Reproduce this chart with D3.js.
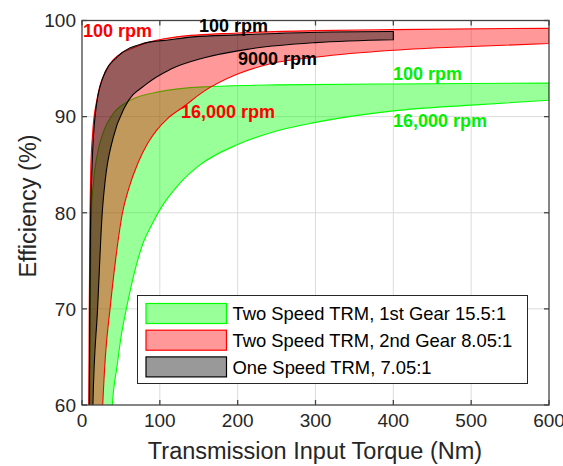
<!DOCTYPE html>
<html>
<head>
<meta charset="utf-8">
<script src="https://cdn.jsdelivr.net/npm/d3@7"></script>
<style>
  body { margin: 0; background: #fff; }
  text { font-family: "Liberation Sans", Arial, sans-serif; }
</style>
</head>
<body>
<div id="chart"></div>
<script>
// ---- data (torque Nm, efficiency %) ----
var gear1HiT   = [9.5, 10, 11, 12.4, 14.5, 19, 27, 40, 62, 100, 156, 250, 400, 600];
var gear1HiEff = [55, 60, 73, 80.3, 83, 85.8, 88.3, 90.3, 91.7, 92.6, 93.1, 93.3, 93.4, 93.5];
var gear1LoT   = [37, 39, 45, 50, 57, 65, 77, 90, 100, 125, 152, 200, 250, 300, 400, 500, 600];
var gear1LoEff = [57, 60, 64, 67, 70, 73, 76.5, 78.8, 80.3, 83, 85, 87.1, 88.5, 89.4, 90.6, 91.2, 91.7];

var gear2HiT   = [8, 8.7, 9.3, 10.3, 11.3, 13.7, 19, 23, 30, 40, 70, 122, 200, 300, 400, 600];
var gear2HiEff = [55, 60, 70, 80, 84.5, 88.3, 91.7, 93.2, 94.6, 95.9, 97.3, 98.3, 98.7, 98.95, 99.05, 99.2];
var gear2LoT   = [25, 26.6, 30, 36, 43, 52, 60, 72, 85, 96, 110, 130, 156, 199, 242, 302, 400, 500, 600];
var gear2LoEff = [57, 60, 65, 70, 75, 80, 82.5, 85.2, 87.3, 88.6, 89.8, 91, 92.6, 94.4, 95.5, 96.2, 96.9, 97.3, 97.6];

var oneHiT   = [9, 9.4, 10, 11, 13, 17, 27, 45, 78, 113, 143, 199, 250, 319, 400];
var oneHiEff = [55, 60, 70, 79, 85, 90.2, 94.1, 96.2, 97.6, 98.0, 98.3, 98.5, 98.65, 98.8, 98.85];
var oneLoT   = [13, 14, 20, 26, 30, 40, 55, 83, 113, 156, 212, 300, 400];
var oneLoEff = [55, 60, 70, 80, 83.5, 87.8, 91, 93.4, 94.9, 96.1, 97.0, 97.7, 98.0];

var xTicks = [0, 100, 200, 300, 400, 500, 600];
var yTicks = [60, 70, 80, 90, 100];
var legendNames = ["Two Speed TRM, 1st Gear 15.5:1", "Two Speed TRM, 2nd Gear 8.05:1", "One Speed TRM, 7.05:1"];
var bandColors = ["#00ff00", "#ff0000", "#000000"];

var W = 563, H = 466;
var x = d3.scaleLinear().domain([0, 600]).range([82, 549]);
var y = d3.scaleLinear().domain([60, 100]).range([405, 20.5]);

var svg = d3.select("#chart").append("svg")
  .attr("width", W).attr("height", H);

svg.append("clipPath").attr("id", "plotclip")
  .append("rect")
  .attr("x", x(0)).attr("y", y(100))
  .attr("width", x(600) - x(0)).attr("height", y(60) - y(100));

// grid
var grid = svg.append("g").attr("stroke", "#dcdcdc").attr("stroke-width", 1);
xTicks.slice(1, -1).forEach(function(t) {
  grid.append("line").attr("x1", x(t)).attr("x2", x(t)).attr("y1", y(60)).attr("y2", y(100));
});
yTicks.slice(1, -1).forEach(function(t) {
  grid.append("line").attr("x1", x(0)).attr("x2", x(600)).attr("y1", y(t)).attr("y2", y(t));
});

function pts(T, E) { return T.map(function(t, i) { return [x(t), y(E[i])]; }); }
var line = d3.line().curve(d3.curveMonotoneX);

// closed band: upper left->right, then lower right->left
function bandPath(hiT, hiE, loT, loE) {
  var up = line(pts(hiT, hiE));
  var lo = line(pts(loT, loE).reverse());
  return up + "L" + lo.slice(1) + "Z";
}

var plot = svg.append("g").attr("clip-path", "url(#plotclip)");
var bands = [
  [gear1HiT, gear1HiEff, gear1LoT, gear1LoEff],
  [gear2HiT, gear2HiEff, gear2LoT, gear2LoEff],
  [oneHiT, oneHiEff, oneLoT, oneLoEff]
];
bands.forEach(function(b, i) {
  plot.append("path")
    .attr("d", bandPath(b[0], b[1], b[2], b[3]))
    .attr("fill", bandColors[i])
    .attr("fill-opacity", 0.4)
    .attr("stroke", bandColors[i])
    .attr("stroke-width", 1.1)
    .attr("stroke-linejoin", "round");
});

// axes box + ticks (inward, on all four sides)
var ax = svg.append("g").attr("stroke", "#444").attr("stroke-width", 1.3);
ax.append("rect").attr("x", x(0)).attr("y", y(100))
  .attr("width", x(600) - x(0)).attr("height", y(60) - y(100)).attr("fill", "none");
xTicks.forEach(function(t) {
  ax.append("line").attr("x1", x(t)).attr("x2", x(t)).attr("y1", y(60)).attr("y2", y(60) - 5);
  ax.append("line").attr("x1", x(t)).attr("x2", x(t)).attr("y1", y(100)).attr("y2", y(100) + 5);
});
yTicks.forEach(function(t) {
  ax.append("line").attr("x1", x(0)).attr("x2", x(0) + 5).attr("y1", y(t)).attr("y2", y(t));
  ax.append("line").attr("x1", x(600)).attr("x2", x(600) - 5).attr("y1", y(t)).attr("y2", y(t));
});

// tick labels (the last one runs past the window edge, as in the source)
svg.selectAll(".xt").data(xTicks).enter().append("text")
  .attr("x", function(d) { return x(d); }).attr("y", 427)
  .attr("text-anchor", "middle").attr("font-size", "19px").attr("fill", "#262626")
  .text(function(d) { return d; });
svg.selectAll(".yt").data(yTicks).enter().append("text")
  .attr("x", 76).attr("y", function(d) { return y(d); }).attr("dy", "0.36em")
  .attr("text-anchor", "end").attr("font-size", "19px").attr("fill", "#262626")
  .text(function(d) { return d; });

// axis titles
svg.append("text").attr("x", 315).attr("y", 459)
  .attr("text-anchor", "middle").attr("font-size", "23.5px").attr("fill", "#262626")
  .text("Transmission Input Torque (Nm)");
svg.append("text").attr("transform", "translate(36,206) rotate(-90)")
  .attr("text-anchor", "middle").attr("font-size", "23.5px").attr("fill", "#262626")
  .text("Efficiency (%)");

// curve annotations
var notes = [
  { t: "100 rpm", x: 83, y: 36.7, c: "#ff0000" },
  { t: "100 rpm", x: 199, y: 31.5, c: "#000000" },
  { t: "9000 rpm", x: 238, y: 65, c: "#000000" },
  { t: "16,000 rpm", x: 181, y: 118, c: "#ff0000" },
  { t: "100 rpm", x: 393, y: 80, c: "#00f000" },
  { t: "16,000 rpm", x: 393, y: 127, c: "#00f000" }
];
svg.selectAll(".note").data(notes).enter().append("text")
  .attr("x", function(d) { return d.x; }).attr("y", function(d) { return d.y; })
  .attr("font-size", "18px").attr("font-weight", "bold")
  .attr("fill", function(d) { return d.c; })
  .text(function(d) { return d.t; });

// legend
var lg = svg.append("g");
lg.append("rect").attr("x", 137.5).attr("y", 295.5).attr("width", 390).attr("height", 88)
  .attr("fill", "#fff").attr("stroke", "#262626").attr("stroke-width", 1);
legendNames.forEach(function(name, i) {
  var yy = 303.5 + i * 26.7;
  lg.append("rect").attr("x", 146).attr("y", yy).attr("width", 80.5).attr("height", 20)
    .attr("fill", bandColors[i]).attr("fill-opacity", 0.4)
    .attr("stroke", bandColors[i]).attr("stroke-width", 1.2);
  lg.append("text").attr("x", 232.5).attr("y", yy + 10).attr("dy", "0.36em")
    .attr("font-size", "18.4px").attr("fill", "#000").text(name);
});
</script>
</body>
</html>
